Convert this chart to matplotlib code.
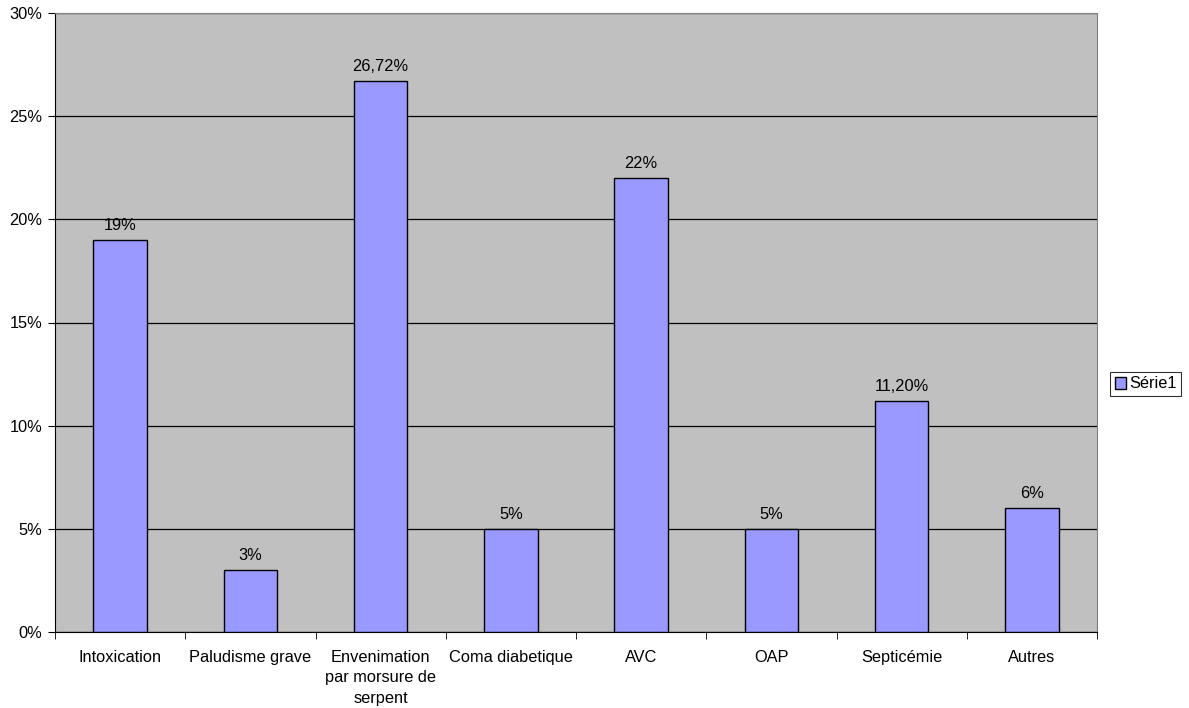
import matplotlib
matplotlib.use("Agg")
import matplotlib.pyplot as plt
from matplotlib.ticker import FuncFormatter
import numpy as np

categories = ["Intoxication", "Paludisme grave", "Envenimation\npar morsure de\nserpent",
              "Coma diabetique", "AVC", "OAP", "Septicémie", "Autres"]
values = [19, 3, 26.72, 5, 22, 5, 11.20, 6]
labels = ["19%", "3%", "26,72%", "5%", "22%", "5%", "11,20%", "6%"]
series_name = "Série1"

plt.rcParams['font.family'] = ['Liberation Sans', 'DejaVu Sans']
FS = 11.8

fig = plt.figure(figsize=(11.89, 7.08), dpi=100)
ax = fig.add_axes([55/1189, 1-632/708, (1097-55)/1189, (632-13)/708])
ax.set_facecolor('#C0C0C0')

x = np.arange(len(categories))
bars = ax.bar(x, values, width=0.41, color='#9999FF', edgecolor='black', linewidth=1.0,
              label=series_name, zorder=3)
for xi, v, lab in zip(x, values, labels):
    ax.annotate(lab, (xi, v), xytext=(0, 5), textcoords='offset points',
                ha='center', va='bottom', fontsize=FS)

ax.set_xlim(-0.5, len(categories) - 0.5)
ax.set_ylim(0, 30)
ax.set_yticks(np.arange(0, 31, 5))
ax.yaxis.set_major_formatter(FuncFormatter(lambda v, p: f"{int(v)}%"))
ax.yaxis.grid(True, color='black', linewidth=0.9, zorder=1)
ax.set_axisbelow(True)

ax.set_xticks(x)
ax.set_xticklabels(categories, fontsize=FS, linespacing=1.45)
ax.set_xticks(np.arange(-0.5, len(categories), 1), minor=True)
ax.tick_params(axis='x', which='major', length=0, pad=13)
ax.tick_params(axis='x', which='minor', length=5, direction='out', color='black')
ax.tick_params(axis='y', length=5, direction='out', labelsize=FS, pad=4)

for s in ['top', 'right']:
    ax.spines[s].set_color('#808080')
for s in ['left', 'bottom']:
    ax.spines[s].set_color('black')

leg = ax.legend(loc='center left', bbox_to_anchor=(1110/1189, 324/708),
                bbox_transform=fig.transFigure, fontsize=FS, frameon=True,
                fancybox=False, edgecolor='black', handlelength=0.7, handleheight=0.7,
                handletextpad=0.15, borderpad=0.3, borderaxespad=0)
leg.get_frame().set_linewidth(0.8)

fig.savefig("out.png", dpi=100)
